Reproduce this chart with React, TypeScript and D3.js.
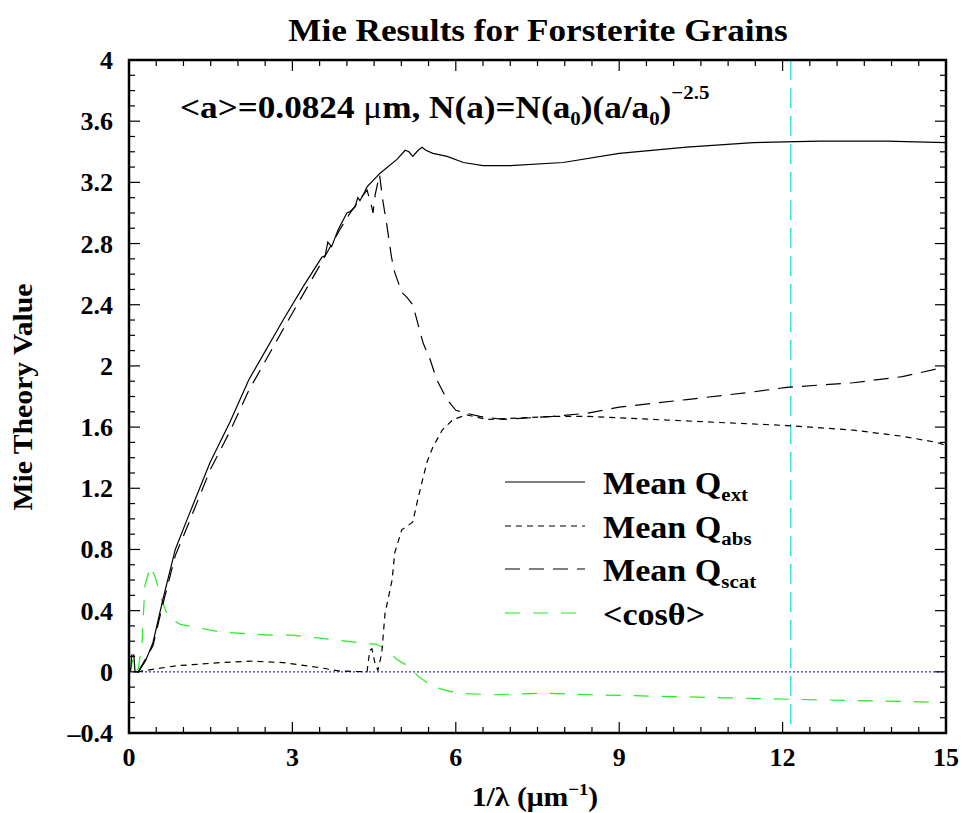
import React, { useEffect, useRef } from 'react';
import * as d3 from 'd3';

// values: [1/lambda, value]
const qExt: [number, number][] = [
  [0.03, 0], [0.05, 0.11], [0.09, 0.11], [0.11, 0.0], [0.17, 0.0], [0.3, 0.07], [0.44, 0.19],
  [0.62, 0.47], [0.85, 0.8], [1.06, 0.99], [1.49, 1.37], [1.85, 1.63], [2.2, 1.91], [2.83, 2.3],
  [3.2, 2.52], [3.54, 2.71], [3.6, 2.72], [3.65, 2.81], [3.72, 2.78], [3.84, 2.89], [4.0, 3.0],
  [4.06, 3.01], [4.15, 3.04], [4.2, 3.1], [4.24, 3.08], [4.33, 3.14], [4.37, 3.17], [4.61, 3.26],
  [4.92, 3.35], [5.07, 3.41], [5.14, 3.4], [5.21, 3.37], [5.31, 3.41], [5.38, 3.43], [5.45, 3.41],
  [5.58, 3.39], [5.84, 3.37], [6.14, 3.33], [6.5, 3.31], [7.0, 3.31], [7.97, 3.33], [9.0, 3.39],
  [10.24, 3.43], [11.46, 3.46], [12.69, 3.47], [13.9, 3.47], [15, 3.46],
];

const qAbs: [number, number][] = [
  [0.15, 0], [0.5, 0.02], [0.88, 0.04], [1.3, 0.05], [1.67, 0.06], [2.22, 0.07], [2.83, 0.06],
  [3.45, 0.03], [3.87, 0.005], [4.37, 0], [4.42, 0.14], [4.46, 0.15], [4.52, 0.05], [4.57, 0.01],
  [4.64, 0.12], [4.7, 0.38], [4.83, 0.6], [4.88, 0.78], [5.01, 0.93], [5.1, 0.95], [5.21, 0.98],
  [5.31, 1.14], [5.47, 1.37], [5.58, 1.47], [5.75, 1.58], [5.95, 1.65], [6.2, 1.68], [6.57, 1.65],
  [7.78, 1.67], [8.4, 1.67], [9.62, 1.65], [10.85, 1.63], [12.08, 1.61], [13.3, 1.58], [14.2, 1.54],
  [14.83, 1.5], [15, 1.48],
];

const qScat: [number, number][] = [
  [0.17, 0], [0.44, 0.17], [0.62, 0.44], [0.85, 0.76], [1.06, 0.94], [1.49, 1.32], [1.85, 1.57],
  [2.2, 1.84], [2.83, 2.24], [3.54, 2.68], [3.87, 2.89], [4.06, 3.0], [4.37, 3.15], [4.45, 3.05],
  [4.48, 3.0], [4.52, 3.12], [4.6, 3.25], [4.66, 3.08], [4.73, 2.93], [4.82, 2.71], [4.88, 2.61],
  [5.01, 2.48], [5.1, 2.45], [5.21, 2.4], [5.4, 2.15], [5.53, 2.04], [5.65, 1.91], [5.84, 1.78],
  [6.0, 1.71], [6.2, 1.69], [6.44, 1.67], [6.87, 1.65], [7.78, 1.67], [8.4, 1.69], [9.0, 1.73],
  [10.24, 1.78], [11.46, 1.83], [12.08, 1.86], [13.3, 1.89], [14.2, 1.93], [14.83, 1.98], [15, 1.99],
];

const cosTheta: [number, number][] = [
  [0.0, 0.0], [0.04, 0.03], [0.07, 0.08], [0.1, 0.0], [0.17, 0.02], [0.24, 0.19], [0.29, 0.56],
  [0.39, 0.69], [0.48, 0.62], [0.6, 0.47], [0.72, 0.36], [0.94, 0.31], [1.25, 0.29], [1.67, 0.26],
  [2.59, 0.24], [3.0, 0.24], [3.5, 0.22], [4.24, 0.19], [4.55, 0.18], [4.74, 0.14], [4.92, 0.08],
  [5.16, 0.03], [5.31, -0.03], [5.47, -0.07], [5.71, -0.11], [6.02, -0.14], [6.68, -0.15],
  [7.6, -0.14], [8.52, -0.15], [9.75, -0.16], [10.98, -0.17], [12.19, -0.18], [13.73, -0.19],
  [15, -0.2],
];

const xTicks = [0, 3, 6, 9, 12, 15];
const yTicks = [4, 3.6, 3.2, 2.8, 2.4, 2, 1.6, 1.2, 0.8, 0.4, 0, -0.4];
const yTickLabels = ['4', '3.6', '3.2', '2.8', '2.4', '2', '1.6', '1.2', '0.8', '0.4', '0', '\u20130.4'];
const cutoffX = 12.15;

const legendItems = [
  { main: 'Mean Q', sub: 'ext', dash: null as string | null, color: '#000' },
  { main: 'Mean Q', sub: 'abs', dash: '6,5', color: '#000' },
  { main: 'Mean Q', sub: 'scat', dash: '15,9', color: '#000' },
  { main: '<cos\u03b8>', sub: '', dash: '15,13', color: '#22ee22' },
];

const FONT = "'Liberation Serif', 'Times New Roman', serif";

export default function App() {
  const ref = useRef<SVGSVGElement>(null);

  useEffect(() => {
    const svg = d3.select(ref.current);
    svg.selectAll('*').remove();

    const margin = { top: 60, right: 18, bottom: 80, left: 129 };
    const width = 964 - margin.left - margin.right;
    const height = 813 - margin.top - margin.bottom;

    const x = d3.scaleLinear().domain([0, 15]).range([0, width]);
    const y = d3.scaleLinear().domain([-0.4, 4]).range([height, 0]);

    const g = svg.append('g').attr('transform', `translate(${margin.left},${margin.top})`);

    // reference lines
    g.append('line')
      .attr('x1', 0).attr('x2', width)
      .attr('y1', y(0)).attr('y2', y(0))
      .attr('stroke', '#3333dd').attr('stroke-width', 1.2)
      .attr('stroke-dasharray', '2,2');
    g.append('line')
      .attr('x1', x(cutoffX)).attr('x2', x(cutoffX))
      .attr('y1', 0).attr('y2', height)
      .attr('stroke', '#22dddd').attr('stroke-width', 1.3)
      .attr('stroke-dasharray', '20,8');

    const line = d3.line<[number, number]>()
      .x((d) => x(d[0]))
      .y((d) => y(d[1]));

    const series = [
      { data: cosTheta, dash: '15,13', color: '#22ee22' },
      { data: qAbs, dash: '6,5', color: '#000' },
      { data: qScat, dash: '15,9', color: '#000' },
      { data: qExt, dash: null, color: '#000' },
    ];
    series.forEach((s) => {
      g.append('path')
        .attr('d', line(s.data))
        .attr('fill', 'none')
        .attr('stroke', s.color)
        .attr('stroke-width', 1.2)
        .attr('stroke-dasharray', s.dash);
    });

    // ticks on all four sides, pointing inward
    const xMinor = d3.range(0, 15.001, 0.5);
    const yMinor = d3.range(-0.4, 4.001, 0.1);
    const isMajorX = (v: number) => Math.abs(v / 3 - Math.round(v / 3)) < 1e-6;
    const isMajorY = (v: number) => Math.abs(v / 0.4 - Math.round(v / 0.4)) < 1e-6;

    xMinor.forEach((v) => {
      const len = isMajorX(v) ? 11 : 6;
      g.append('line').attr('x1', x(v)).attr('x2', x(v)).attr('y1', height).attr('y2', height - len)
        .attr('stroke', '#000').attr('stroke-width', 1.2);
      g.append('line').attr('x1', x(v)).attr('x2', x(v)).attr('y1', 0).attr('y2', len)
        .attr('stroke', '#000').attr('stroke-width', 1.2);
    });
    yMinor.forEach((v) => {
      const len = isMajorY(v) ? 11 : 6;
      g.append('line').attr('x1', 0).attr('x2', len).attr('y1', y(v)).attr('y2', y(v))
        .attr('stroke', '#000').attr('stroke-width', 1.2);
      g.append('line').attr('x1', width).attr('x2', width - len).attr('y1', y(v)).attr('y2', y(v))
        .attr('stroke', '#000').attr('stroke-width', 1.2);
    });

    g.append('rect')
      .attr('width', width).attr('height', height)
      .attr('fill', 'none').attr('stroke', '#000').attr('stroke-width', 2.5);

    // tick labels
    g.selectAll('.xlab').data(xTicks).enter().append('text')
      .attr('x', (d) => x(d)).attr('y', height + 33)
      .attr('text-anchor', 'middle')
      .attr('font-family', FONT).attr('font-weight', 'bold').attr('font-size', 26)
      .text((d) => String(d));
    g.selectAll('.ylab').data(yTicks).enter().append('text')
      .attr('x', -16).attr('y', (d) => y(d) + 9)
      .attr('text-anchor', 'end')
      .attr('font-family', FONT).attr('font-weight', 'bold').attr('font-size', 26)
      .text((d, i) => yTickLabels[i]);

    // stretched text helper (the reference type is a bit wider than Liberation Serif)
    const label = (tx: number, ty: number, rot: number, sx: number, size: number, anchor: string) =>
      svg.append('g')
        .attr('transform', `translate(${tx},${ty}) rotate(${rot}) scale(${sx},1)`)
        .append('text')
        .attr('text-anchor', anchor)
        .attr('font-family', FONT).attr('font-weight', 'bold').attr('font-size', size);

    label(538, 41, 0, 1.1, 32, 'middle').text('Mie Results for Forsterite Grains');

    const xl = label(535, 806, 0, 1.1, 27, 'middle');
    xl.append('tspan').text('1/\u03bb (\u03bcm');
    xl.append('tspan').attr('dy', -11).attr('font-size', 17).text('\u22121');
    xl.append('tspan').attr('dy', 11).text(')');

    label(32, 397, -90, 1.1, 27, 'middle').text('Mie Theory Value');

    // annotation
    const an = label(180, 118, 0, 1.1, 32, 'start');
    an.append('tspan').text('<a>=0.0824 ');
    an.append('tspan').attr('font-weight', 'normal').text('\u03bc');
    an.append('tspan').text('m, N(a)=N(a');
    an.append('tspan').attr('dy', 7).attr('font-size', 19).text('0');
    an.append('tspan').attr('dy', -7).text(')(a/a');
    an.append('tspan').attr('dy', 7).attr('font-size', 19).text('0');
    an.append('tspan').attr('dy', -7).text(')');
    an.append('tspan').attr('dy', -19).attr('font-size', 19).text('\u22122.5');

    // legend
    const rowY = [482, 526, 569, 613];
    legendItems.forEach((it, i) => {
      svg.append('line')
        .attr('x1', 505).attr('x2', 585).attr('y1', rowY[i]).attr('y2', rowY[i])
        .attr('stroke', it.color).attr('stroke-width', 1.2)
        .attr('stroke-dasharray', it.dash);
      const t = label(603, rowY[i] + 12, 0, 1.1, 31, 'start');
      t.append('tspan').text(it.main);
      if (it.sub) t.append('tspan').attr('dy', 7).attr('font-size', 19).text(it.sub);
    });
  }, []);

  return (
    <svg ref={ref} width={964} height={813}
      style={{ position: 'absolute', left: 0, top: 0, background: '#fff' }} />
  );
}
